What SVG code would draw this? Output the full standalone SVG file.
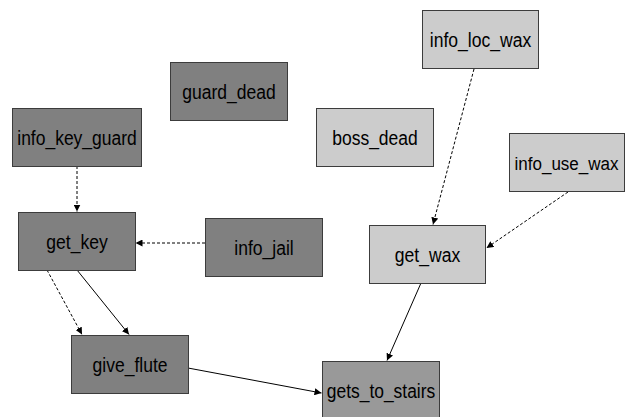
<svg xmlns="http://www.w3.org/2000/svg" width="625" height="417" viewBox="0 0 625 417">
<style>
.n rect{stroke:#3c3c3c;stroke-width:1}
.d rect{fill:#808080}
.l rect{fill:#cccccc}
.m rect{fill:#999999}
text{font-family:"Liberation Sans",Arial,sans-serif;font-size:19.5px;fill:#000;text-anchor:middle}
.e line{stroke:#000;stroke-width:1;fill:none}
.e .ds{stroke-dasharray:3,2}
</style>
<defs>
<marker id="ah" viewBox="0 0 10 10" refX="10" refY="5" markerWidth="7" markerHeight="7" markerUnits="userSpaceOnUse" orient="auto">
<path d="M0,0 L10,5 L0,10 z" fill="#000"/>
</marker>
</defs>
<rect width="625" height="417" fill="#fff"/>
<g class="e" id="connectors">
<line class="ds" x1="77" y1="166" x2="77" y2="211.5" marker-end="url(#ah)"/>
<line class="ds" x1="205" y1="243" x2="135.5" y2="243" marker-end="url(#ah)"/>
<line class="ds" x1="47" y1="270" x2="82" y2="334.5" marker-end="url(#ah)"/>
<line x1="77" y1="270" x2="129" y2="334.5" marker-end="url(#ah)"/>
<line x1="188" y1="368" x2="321.5" y2="393" marker-end="url(#ah)"/>
<line x1="421" y1="283" x2="387" y2="360.5" marker-end="url(#ah)"/>
<line class="ds" x1="474" y1="69" x2="433" y2="224.5" marker-end="url(#ah)"/>
<line class="ds" x1="568" y1="192" x2="486.5" y2="248" marker-end="url(#ah)"/>
</g>
<g id="guard_dead" class="n d"><rect x="170.5" y="62.5" width="117" height="58"/><text x="229" y="99" textLength="93.5" lengthAdjust="spacingAndGlyphs">guard_dead</text></g>
<g id="info_key_guard" class="n d"><rect x="12.5" y="108.5" width="129" height="58"/><text x="77" y="145" textLength="119.5" lengthAdjust="spacingAndGlyphs">info_key_guard</text></g>
<g id="get_key" class="n d"><rect x="18.5" y="212.5" width="117" height="58"/><text x="77" y="249" textLength="61.5" lengthAdjust="spacingAndGlyphs">get_key</text></g>
<g id="info_jail" class="n d"><rect x="205.5" y="218.5" width="117" height="58"/><text x="264" y="255" textLength="59.5" lengthAdjust="spacingAndGlyphs">info_jail</text></g>
<g id="boss_dead" class="n l"><rect x="316.5" y="108.5" width="117" height="58"/><text x="375" y="145" textLength="85.5" lengthAdjust="spacingAndGlyphs">boss_dead</text></g>
<g id="info_loc_wax" class="n l"><rect x="422.5" y="10.5" width="116" height="58"/><text x="480.5" y="47" textLength="101.5" lengthAdjust="spacingAndGlyphs">info_loc_wax</text></g>
<g id="info_use_wax" class="n l"><rect x="509.5" y="133.5" width="115" height="58"/><text x="566.5" y="170" style="font-size:18px" textLength="104" lengthAdjust="spacingAndGlyphs">info_use_wax</text></g>
<g id="get_wax" class="n l"><rect x="369.5" y="225.5" width="116" height="58"/><text x="427.5" y="262" textLength="65.5" lengthAdjust="spacingAndGlyphs">get_wax</text></g>
<g id="give_flute" class="n d"><rect x="71.5" y="335.5" width="117" height="58"/><text x="130" y="372" textLength="75" lengthAdjust="spacingAndGlyphs">give_flute</text></g>
<g id="gets_to_stairs" class="n m"><rect x="322.5" y="361.5" width="117" height="58"/><text x="381" y="398" textLength="108.5" lengthAdjust="spacingAndGlyphs">gets_to_stairs</text></g>
</svg>
